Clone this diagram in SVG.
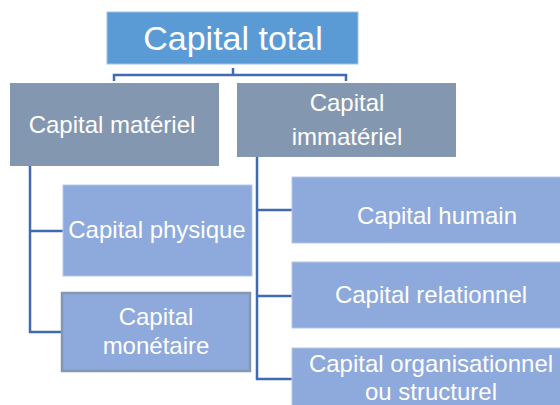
<svg xmlns="http://www.w3.org/2000/svg" width="560" height="405" viewBox="0 0 560 405">
<style>
.t{font-family:"Liberation Sans",Arial,sans-serif;fill:#fff;text-anchor:middle;font-size:24px}
.c{fill:none;stroke:#4169B4;stroke-width:2.5}
.top{fill:#5B9BD5;stroke:#9DC3E6;stroke-width:1}
.mid{fill:#8497B0}
.lt{fill:#8EA9DB;stroke:#B4C7E7;stroke-width:1}
</style>
<rect width="560" height="405" fill="#fff"/>
<g id="connectors">
<path class="c" d="M114 81V75H346V81M233 68V75"/>
<path class="c" d="M30 166V332H61M30 231H63"/>
<path class="c" d="M257 157V379H292M257 210H292M257 296H292"/>
</g>
<g id="total">
<rect class="top" x="107" y="12" width="251" height="52"/>
<text class="t" x="233" y="50" style="font-size:34px">Capital total</text>
</g>
<g id="materiel">
<rect class="mid" x="10" y="83" width="209" height="83"/>
<text class="t" x="112" y="133">Capital matériel</text>
</g>
<g id="immateriel">
<rect class="mid" x="237" y="83" width="219" height="74"/>
<text class="t" x="347" y="111">Capital</text>
<text class="t" x="347" y="145">immatériel</text>
</g>
<g id="physique">
<rect class="lt" x="63" y="185" width="189" height="91"/>
<text class="t" x="157" y="238">Capital physique</text>
</g>
<g id="monetaire">
<rect x="62" y="293" width="188" height="78" fill="#8EA9DB" stroke="#8497B0" stroke-width="2.5"/>
<text class="t" x="156" y="325">Capital</text>
<text class="t" x="156" y="354">monétaire</text>
</g>
<g id="humain">
<rect class="lt" x="292" y="177" width="278" height="66"/>
<text class="t" x="437" y="224">Capital humain</text>
</g>
<g id="relationnel">
<rect class="lt" x="292" y="262" width="278" height="66"/>
<text class="t" x="431" y="303">Capital relationnel</text>
</g>
<g id="organisationnel">
<rect class="lt" x="292" y="348" width="278" height="66"/>
<text class="t" x="431" y="372">Capital organisationnel</text>
<text class="t" x="431" y="400">ou structurel</text>
</g>
</svg>
